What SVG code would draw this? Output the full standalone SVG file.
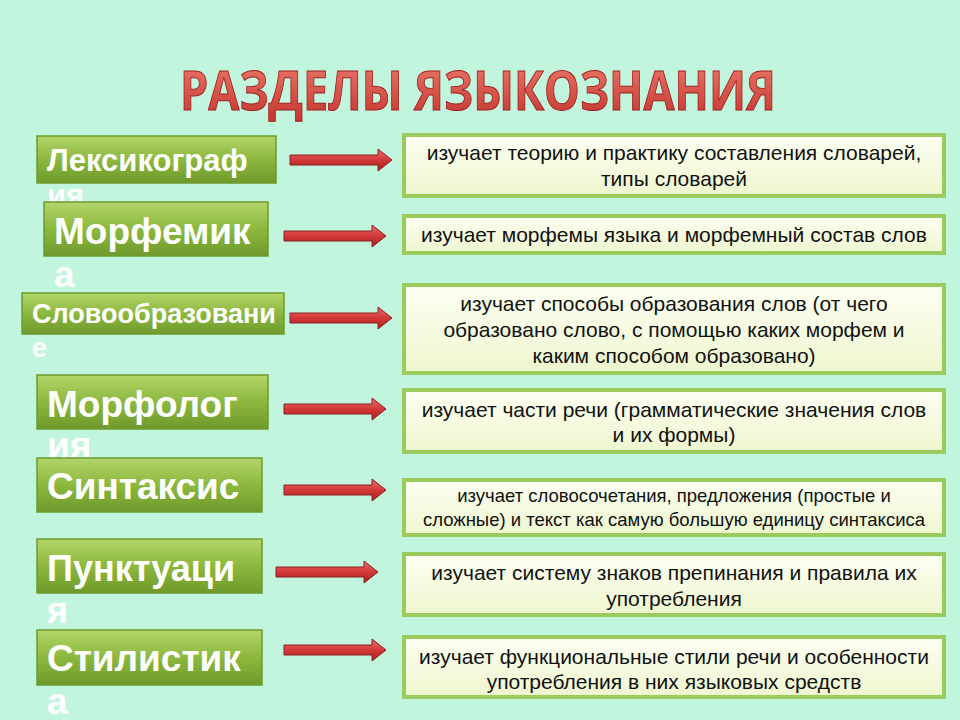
<svg xmlns="http://www.w3.org/2000/svg" width="960" height="720" viewBox="0 0 960 720">
<defs>
<linearGradient id="g" x1="0" y1="0" x2="0" y2="1"><stop offset="0" stop-color="#b3d56a"/><stop offset="0.5" stop-color="#8cb83e"/><stop offset="1" stop-color="#6f9a2c"/></linearGradient>
<linearGradient id="w" x1="0" y1="0" x2="0" y2="1"><stop offset="0" stop-color="#fdfff2"/><stop offset="1" stop-color="#eef6cf"/></linearGradient>
<linearGradient id="r" x1="0" y1="0" x2="0" y2="1"><stop offset="0" stop-color="#e87070"/><stop offset="0.5" stop-color="#d43838"/><stop offset="1" stop-color="#a82020"/></linearGradient>
<linearGradient id="t" x1="0" y1="0" x2="0" y2="1"><stop offset="0" stop-color="#f08070"/><stop offset="1" stop-color="#c0302a"/></linearGradient>
<path id="arr" d="M0,-5 H88 V-11 L102,0 L88,11 V5 H0 Z"/>
</defs>
<style>
.l{fill:url(#g);stroke:#6c9a2e;stroke-width:1.5}
.lt{font-family:"Liberation Sans",Arial,sans-serif;font-weight:bold;fill:#fff}
.r{fill:url(#w);stroke:#9acb5c;stroke-width:4}
.rt{font-family:"Liberation Sans",Arial,sans-serif;font-size:21px;fill:#111;text-anchor:middle}
.rs{font-size:18.5px}
.a{fill:url(#r);stroke:#8a2020;stroke-width:1}
</style>
<rect width="960" height="720" fill="#c2f5dd"/>
<text transform="translate(478,110) scale(1,1.2)" text-anchor="middle" font-family="'Open Sans','Liberation Sans',sans-serif" font-weight="bold" font-size="45" fill="url(#t)" stroke="#a02020" stroke-width="0.8">РАЗДЕЛЫ ЯЗЫКОЗНАНИЯ</text>
<g id="conn">
<use href="#arr" class="a" x="290" y="160"/>
<use href="#arr" class="a" x="284" y="236"/>
<use href="#arr" class="a" x="290" y="318"/>
<use href="#arr" class="a" x="284" y="409"/>
<use href="#arr" class="a" x="284" y="490"/>
<use href="#arr" class="a" x="276" y="572"/>
<use href="#arr" class="a" x="284" y="650"/>
</g>
<g id="n1"><rect class="l" x="37" y="136" width="239" height="47"/><text class="lt" x="47" y="171" font-size="31">Лексикограф</text><text class="lt" x="47" y="206" font-size="31">ия</text></g>
<g id="n2"><rect class="l" x="44" y="202" width="224" height="54"/><text class="lt" x="54" y="244" font-size="37">Морфемик</text><text class="lt" x="54" y="287" font-size="37">а</text></g>
<g id="n3"><rect class="l" x="22" y="293" width="262" height="41"/><text class="lt" x="32" y="323" font-size="27">Словообразовани</text><text class="lt" x="32" y="357" font-size="27">е</text></g>
<g id="n4"><rect class="l" x="37" y="375" width="231" height="54"/><text class="lt" x="47" y="417" font-size="37">Морфолог</text><text class="lt" x="47" y="458" font-size="37">ия</text></g>
<g id="n5"><rect class="l" x="37" y="458" width="225" height="54"/><text class="lt" x="47" y="499" font-size="37">Синтаксис</text></g>
<g id="n6"><rect class="l" x="37" y="539" width="225" height="54"/><text class="lt" x="47" y="581" font-size="36">Пунктуаци</text><text class="lt" x="47" y="623" font-size="36">я</text></g>
<g id="n7"><rect class="l" x="37" y="630" width="225" height="55"/><text class="lt" x="47" y="671" font-size="37">Стилистик</text><text class="lt" x="47" y="714" font-size="37">а</text></g>
<g id="d1"><rect class="r" x="404" y="135" width="540" height="61"/><text class="rt" x="674" y="160">изучает теорию и практику составления словарей,</text><text class="rt" x="674" y="186">типы словарей</text></g>
<g id="d2"><rect class="r" x="404" y="216" width="540" height="37"/><text class="rt" x="674" y="242">изучает морфемы языка и морфемный состав слов</text></g>
<g id="d3"><rect class="r" x="404" y="285" width="540" height="88"/><text class="rt" x="674" y="311">изучает способы образования слов (от чего</text><text class="rt" x="674" y="337">образовано слово, с помощью каких морфем и</text><text class="rt" x="674" y="363">каким способом образовано)</text></g>
<g id="d4"><rect class="r" x="404" y="390" width="540" height="62"/><text class="rt" x="674" y="417">изучает части речи (грамматические значения слов</text><text class="rt" x="674" y="442">и их формы)</text></g>
<g id="d5"><rect class="r" x="404" y="480" width="540" height="55"/><text class="rt rs" x="674" y="502">изучает словосочетания, предложения (простые и</text><text class="rt rs" x="674" y="526">сложные) и текст как самую большую единицу синтаксиса</text></g>
<g id="d6"><rect class="r" x="404" y="554" width="540" height="61"/><text class="rt" x="674" y="580">изучает систему знаков препинания и правила их</text><text class="rt" x="674" y="606">употребления</text></g>
<g id="d7"><rect class="r" x="404" y="637" width="540" height="60"/><text class="rt" x="674" y="664">изучает функциональные стили речи и особенности</text><text class="rt" x="674" y="689">употребления в них языковых средств</text></g>
</svg>
